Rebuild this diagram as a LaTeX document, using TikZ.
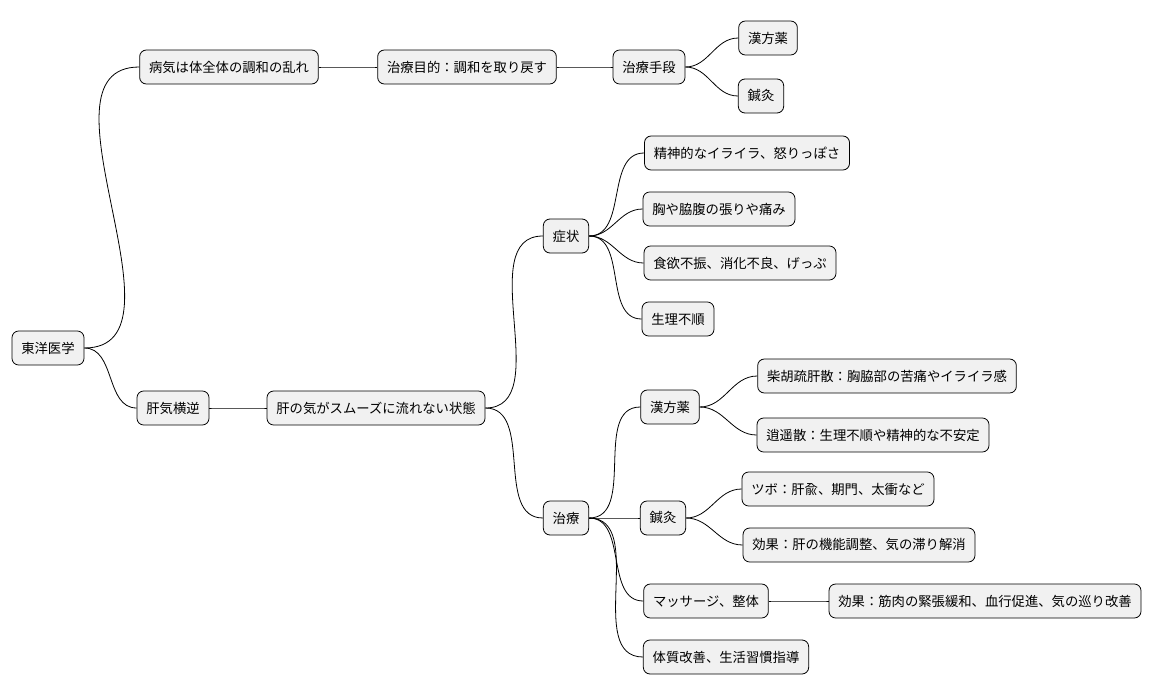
\documentclass[tikz,border=0pt]{standalone}
\usepackage{fontspec}
\setmainfont{Noto Sans CJK JP}
\begin{document}
\begin{tikzpicture}[x=0.75pt,y=-0.75pt,
  box/.style={draw=black,line width=0.6pt,fill=black!5.5,rounded corners=5pt,minimum height=25.5pt,inner xsep=7pt,font=\fontsize{10}{12}\selectfont},
  ln/.style={draw=black,line width=0.6pt}]
\useasboundingbox (0,0) rectangle (1160,696);
\node[box] (r) at (48,348) {東洋医学};
\node[box] (a) at (229,67) {病気は体全体の調和の乱れ};
\node[box] (a1) at (467,67) {治療目的：調和を取り戻す};
\node[box] (a2) at (649,67) {治療手段};
\node[box] (a3) at (768,38) {漢方薬};
\node[box] (a4) at (761,96) {鍼灸};
\node[box] (b) at (173,408) {肝気横逆};
\node[box] (b1) at (376,408) {肝の気がスムーズに流れない状態};
\node[box] (s) at (566,236) {症状};
\node[box] (s1) at (747,153) {精神的なイライラ、怒りっぽさ};
\node[box] (s2) at (719,209) {胸や脇腹の張りや痛み};
\node[box] (s3) at (740,263) {食欲不振、消化不良、げっぷ};
\node[box] (s4) at (678,319) {生理不順};
\node[box] (t) at (566,518) {治療};
\node[box] (k) at (670,407) {漢方薬};
\node[box] (k1) at (887,376) {柴胡疏肝散：胸脇部の苦痛やイライラ感};
\node[box] (k2) at (873,435) {逍遥散：生理不順や精神的な不安定};
\node[box] (h) at (663,518) {鍼灸};
\node[box] (h1) at (838,489) {ツボ：肝兪、期門、太衝など};
\node[box] (h2) at (859,545) {効果：肝の機能調整、気の滞り解消};
\node[box] (m) at (706,601) {マッサージ、整体};
\node[box] (m1) at (985,601) {効果：筋肉の緊張緩和、血行促進、気の巡り改善};
\node[box] (c) at (726,657) {体質改善、生活習慣指導};
\foreach \p/\c in {r/a,r/b,a/a1,a1/a2,a2/a3,a2/a4,b/b1,b1/s,b1/t,s/s1,s/s2,s/s3,s/s4,t/k,t/h,t/m,t/c,k/k1,k/k2,h/h1,h/h2,m/m1}
  \draw[ln] (\p.east) to[out=0,in=180] (\c.west);
\end{tikzpicture}
\end{document}
